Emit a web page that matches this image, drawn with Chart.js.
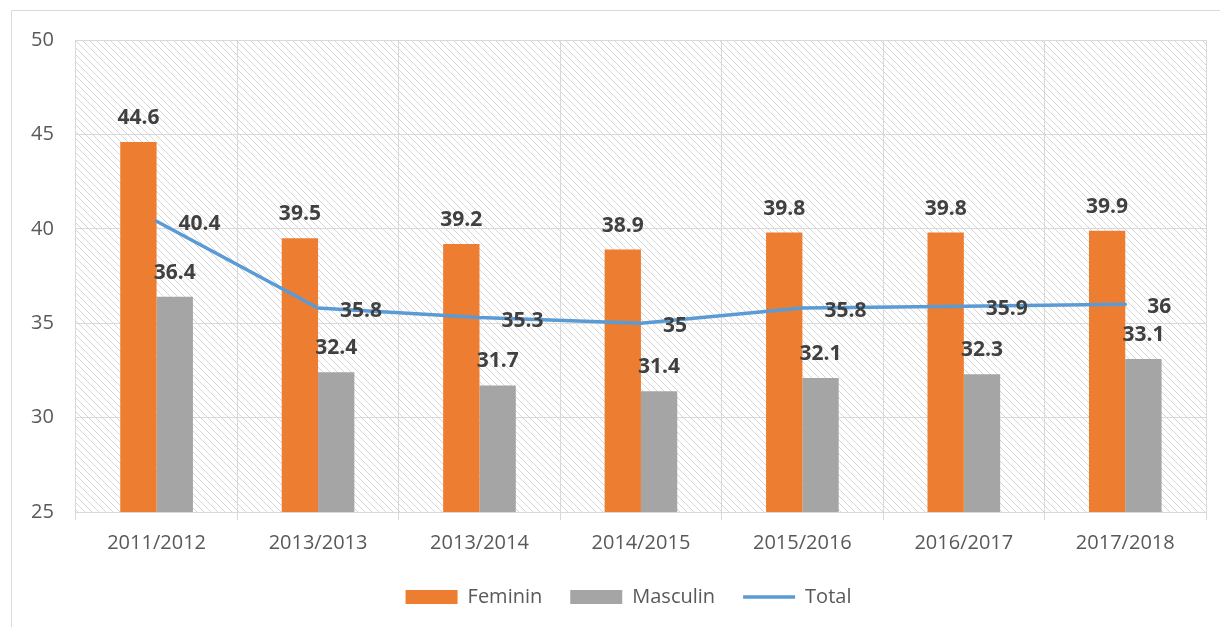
<!DOCTYPE html>
<html>
<head>
<meta charset="utf-8">
<script src="https://cdn.jsdelivr.net/npm/chart.js@4"></script>
<style>
html,body{margin:0;padding:0;background:#fff;}
#wrap{width:1220px;height:627px;position:relative;}
</style>
</head>
<body>
<div id="wrap"><canvas id="c" width="1220" height="627"></canvas></div>
<script>
const categories = ['2011/2012','2013/2013','2013/2014','2014/2015','2015/2016','2016/2017','2017/2018'];
const feminin = [44.6, 39.5, 39.2, 38.9, 39.8, 39.8, 39.9];
const masculin = [36.4, 32.4, 31.7, 31.4, 32.1, 32.3, 33.1];
const total = [40.4, 35.8, 35.3, 35, 35.8, 35.9, 36];
const yTicks = [25, 30, 35, 40, 45, 50];

const FONT = "'Open Sans', 'DejaVu Sans', sans-serif";

function makePattern(){
  const s = 7;
  const p = document.createElement('canvas');
  p.width = s; p.height = s;
  const g = p.getContext('2d');
  g.fillStyle = '#ffffff';
  g.fillRect(0,0,s,s);
  g.strokeStyle = '#d6d6d6';
  g.lineWidth = 1;
  g.beginPath();
  g.moveTo(-1,-1); g.lineTo(s+1,s+1);
  g.moveTo(-1,s-1); g.lineTo(1,s+1);
  g.moveTo(s-1,-1); g.lineTo(s+1,1);
  g.stroke();
  return g.createPattern(p,'repeat');
}

const bgPlugin = {
  id: 'bg',
  afterLayout(chart){
    if (chart.legend) { chart.legend.left += 21; chart.legend.right += 21; }
  },
  beforeDraw(chart){
    const ctx = chart.ctx, a = chart.chartArea;
    ctx.save();
    ctx.fillStyle = '#fff';
    ctx.fillRect(0,0,chart.width,chart.height);
    ctx.strokeStyle = '#d9d9d9';
    ctx.lineWidth = 1;
    ctx.beginPath();
    ctx.moveTo(11.5, 640); ctx.lineTo(11.5, 10.5); ctx.lineTo(1240, 10.5);
    ctx.stroke();
    ctx.fillStyle = makePattern();
    ctx.fillRect(a.left, a.top, a.right - a.left, a.bottom - a.top);
    ctx.restore();
  }
};

const labelPlugin = {
  id: 'vlabels',
  afterDatasetsDraw(chart){
    const ctx = chart.ctx;
    ctx.save();
    ctx.font = "bold 21px " + FONT;
    ctx.fillStyle = '#404040';
    ctx.textBaseline = 'middle';
    chart.data.datasets.forEach((ds, di) => {
      const meta = chart.getDatasetMeta(di);
      meta.data.forEach((el, i) => {
        const v = ds.data[i];
        if (ds.type === 'line') {
          ctx.textAlign = 'left';
          ctx.fillText(String(v), el.x + 22, el.y + 3);
        } else {
          ctx.textAlign = 'center';
          ctx.fillText(String(v), el.x, el.y - 24);
        }
      });
    });
    ctx.restore();
  }
};

new Chart(document.getElementById('c'), {
  data: {
    labels: categories,
    datasets: [
      { type:'line', label:'Total', data: total, borderColor:'#5B9BD5', backgroundColor:'#5B9BD5',
        borderWidth:3.5, pointRadius:0, pointHoverRadius:0, tension:0, order:0, borderCapStyle:'round' },
      { type:'bar', label:'Feminin', data: feminin, backgroundColor:'#ED7D31', borderWidth:0, order:1 },
      { type:'bar', label:'Masculin', data: masculin, backgroundColor:'#A5A5A5', borderWidth:0, order:1 }
    ]
  },
  options: {
    responsive:false,
    animation:false,
    events:[],
    datasets:{ bar:{ barPercentage:1, categoryPercentage:0.45 } },
    layout:{ padding:{ left:9, right:14, top:40, bottom:10 } },
    scales:{
      x:{
        offset:true,
        afterFit(axis){ axis.height -= 7; },
        grid:{ offset:true, color:'#d9d9d9', lineWidth:1, drawTicks:true, tickLength:8 },
        border:{ color:'#d9d9d9' },
        ticks:{ font:{ family:FONT, size:20 }, color:'#595959', padding:11, maxRotation:0 }
      },
      y:{
        min:25, max:50,
        afterBuildTicks(axis){ axis.ticks = yTicks.map(v => ({value:v})); },
        grid:{ color:'#d9d9d9', lineWidth:1, drawTicks:false },
        border:{ display:false },
        ticks:{ font:{ family:FONT, size:20 }, color:'#595959', padding:22 }
      }
    },
    plugins:{
      tooltip:{ enabled:false },
      legend:{
        position:'bottom',
        labels:{
          font:{ family:FONT, size:20 },
          color:'#595959',
          usePointStyle:true,
          pointStyleWidth:52,
          boxHeight:14,
          padding:28,
          sort:(a,b) => {
            const ord = {'Feminin':0,'Masculin':1,'Total':2};
            return ord[a.text] - ord[b.text];
          },
          generateLabels(chart){
            const items = Chart.defaults.plugins.legend.labels.generateLabels(chart);
            items.forEach(it => {
              if (it.text === 'Total') { it.pointStyle = 'line'; it.lineWidth = 3.5; it.strokeStyle = '#5B9BD5'; }
              else { it.pointStyle = 'rect'; it.lineWidth = 0; }
            });
            return items;
          }
        }
      }
    }
  },
  plugins:[bgPlugin, labelPlugin]
});
</script>
</body>
</html>
